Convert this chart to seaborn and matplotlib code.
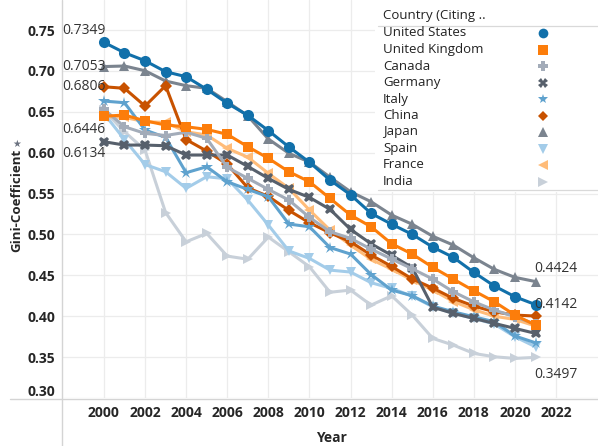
import pandas as pd
import matplotlib.pyplot as plt
import matplotlib.transforms as mtransforms
import seaborn as sns
from matplotlib.lines import Line2D

years = list(range(2000, 2022))

countries = ['United States', 'United Kingdom', 'Canada', 'Germany', 'Italy',
             'China', 'Japan', 'Spain', 'France', 'India']

united_states = [0.7349, 0.7222, 0.7124, 0.6990, 0.6929, 0.6775, 0.6604, 0.6457, 0.6270, 0.6070, 0.5883,
                 0.5665, 0.5485, 0.5258, 0.5125, 0.5001, 0.4845, 0.4720, 0.4536, 0.4369, 0.4238, 0.4142]
united_kingdom = [0.6446, 0.6460, 0.6390, 0.6338, 0.6317, 0.6285, 0.6224, 0.6073, 0.5931, 0.5767, 0.5644,
                  0.5441, 0.5237, 0.5094, 0.4886, 0.4760, 0.4598, 0.4454, 0.4311, 0.4176, 0.4014, 0.3891]
canada = [0.6530, 0.6317, 0.6236, 0.6210, 0.6250, 0.6175, 0.5820, 0.5686, 0.5551, 0.5420, 0.5209,
          0.5033, 0.4952, 0.4820, 0.4700, 0.4580, 0.4455, 0.4299, 0.4176, 0.4075, 0.3993, 0.3904]
germany = [0.6134, 0.6093, 0.6093, 0.6085, 0.5971, 0.5971, 0.5971, 0.5832, 0.5686, 0.5551, 0.5453,
           0.5307, 0.5062, 0.4886, 0.4745, 0.4595, 0.4110, 0.4035, 0.3973, 0.3912, 0.3851, 0.3790]
italy = [0.6631, 0.6611, 0.6277, 0.6187, 0.5755, 0.5828, 0.5644, 0.5551, 0.5461, 0.5127, 0.5094,
         0.4840, 0.4760, 0.4510, 0.4320, 0.4250, 0.4124, 0.4054, 0.3993, 0.3932, 0.3758, 0.3675]
china = [0.6806, 0.6787, 0.6570, 0.6819, 0.6160, 0.6020, 0.5860, 0.5570, 0.5465, 0.5294, 0.5143,
         0.5020, 0.4910, 0.4748, 0.4609, 0.4456, 0.4344, 0.4218, 0.4124, 0.4054, 0.4014, 0.4002]
japan = [0.7053, 0.7060, 0.7002, 0.6876, 0.6819, 0.6787, 0.6623, 0.6450, 0.6167, 0.5992, 0.5885,
         0.5700, 0.5522, 0.5400, 0.5237, 0.5125, 0.4978, 0.4870, 0.4715, 0.4573, 0.4475, 0.4424]
spain = [0.6480, 0.6160, 0.5855, 0.5767, 0.5564, 0.5706, 0.5680, 0.5420, 0.5115, 0.4798, 0.4707,
         0.4564, 0.4540, 0.4410, 0.4340, 0.4245, 0.4116, 0.4035, 0.3973, 0.3904, 0.3749, 0.3626]
france = [0.6440, 0.6432, 0.6378, 0.6370, 0.6256, 0.6216, 0.6053, 0.5945, 0.5747, 0.5564, 0.5298,
          0.5053, 0.4870, 0.4695, 0.4575, 0.4440, 0.4320, 0.4180, 0.4080, 0.4000, 0.3960, 0.3880]
india = [0.6520, 0.6256, 0.6032, 0.5268, 0.4910, 0.5013, 0.4735, 0.4697, 0.4968, 0.4788, 0.4605,
         0.4293, 0.4320, 0.4136, 0.4250, 0.4014, 0.3729, 0.3647, 0.3545, 0.3504, 0.3484, 0.3497]

series = [united_states, united_kingdom, canada, germany, italy, china, japan, spain, france, india]

colors = ['#1170aa', '#fc7d0b', '#a3acb9', '#57606c', '#5fa2ce',
          '#c85200', '#7b848f', '#a3cce9', '#ffbc79', '#c8d0d9']
markers = ['o', 's', 'P', 'X', '*', 'D', '^', 'v', '<', '>']
msizes = [8, 7.5, 7.5, 7.5, 9, 6, 7.5, 7.5, 7.5, 7.5]

# value labels: (country, year index)
labels_left = [('United States', 0), ('Japan', 0), ('China', 0), ('United Kingdom', 0), ('Germany', 0)]
labels_right = [('Japan', -1), ('United States', -1), ('India', -1)]

rows = []
for c, vals in zip(countries, series):
    for y, v in zip(years, vals):
        rows.append({'Year': y, 'Gini': v, 'Country': c})
df = pd.DataFrame(rows)

sns.set_style('white')
plt.rcParams['font.family'] = ['Open Sans', 'DejaVu Sans']

W, H = 598, 446
fig = plt.figure(figsize=(W / 100, H / 100), dpi=100)
ax = fig.add_axes([62 / W, 1 - 398 / H, 1 - 62 / W, 398 / H])

for c, col, m, ms in reversed(list(zip(countries, colors, markers, msizes))):
    sns.lineplot(data=df[df['Country'] == c], x='Year', y='Gini', ax=ax, color=col,
                 marker=m, markersize=ms, markeredgewidth=0, linewidth=2.2, legend=False)

ax.set_xlim(1997.96, 2024.04)
ax.set_ylim(0.30, 0.7867)
ax.set_xticks(range(2000, 2023, 2))
ax.set_yticks([0.30, 0.35, 0.40, 0.45, 0.50, 0.55, 0.60, 0.65, 0.70, 0.75])
ax.set_yticklabels(['%.2f' % t for t in ax.get_yticks()])
ax.grid(True, color='#ececec', linewidth=0.9)
ax.set_axisbelow(True)
for s in ax.spines.values():
    s.set_visible(False)
ax.tick_params(axis='both', length=0, labelsize=10)
ax.tick_params(axis='x', pad=6)
ax.tick_params(axis='y', pad=5)
for t in ax.get_xticklabels() + ax.get_yticklabels():
    t.set_fontweight('bold')
# the 0.30 label sits a little higher, as in the original
ylabs = ax.get_yticklabels()
ylabs[0].set_transform(ylabs[0].get_transform() + mtransforms.ScaledTranslation(0, 8 / 100, fig.dpi_scale_trans))

ax.set_xlabel('')
ax.set_ylabel('')
fig.text(331 / W, 1 - 438 / H, 'Year', ha='center', va='center', fontsize=10, fontweight='bold')
fig.text(17 / W, 1 - 200 / H, 'Gini-Coefficient', rotation=90, ha='center', va='center',
         fontsize=9.5, fontweight='bold')
fig.text(17 / W, 1 - 144 / H, '\u2605', ha='center', va='center', fontsize=7, color='#6b7280',
         family='DejaVu Sans')

lookup = dict(zip(countries, series))
for c, i in labels_left:
    v = lookup[c][i]
    off = {'United States': 12, 'Japan': 0, 'China': 0, 'United Kingdom': -13, 'Germany': -12}[c]
    ax.annotate('%.4f' % v, (years[i], v), xytext=(-42, off), textcoords='offset pixels',
                ha='left', va='center', fontsize=10, color='#333333')
for c, i in labels_right:
    v = lookup[c][i]
    off = {'Japan': 13, 'United States': 0, 'India': -17}[c]
    ax.annotate('%.4f' % v, (years[i], v), xytext=(-1, off), textcoords='offset pixels',
                ha='left', va='center', fontsize=10, color='#333333')

# frame lines of the view
fig.add_artist(Line2D([62 / W, 62 / W], [0, 1], color='#d4d4d4', linewidth=1))
fig.add_artist(Line2D([10 / W, 1], [1 - 399 / H, 1 - 399 / H], color='#d4d4d4', linewidth=1))

# legend panel
lg = fig.add_axes([375 / W, 1 - 192 / H, 223 / W, 192 / H])
lg.set_xlim(375, 598)
lg.set_ylim(192, 0)
lg.axis('off')
lg.add_patch(plt.Rectangle((375, 0), 223, 192, color='white', zorder=0))
lg.text(383, 16, 'Country (Citing ..', fontsize=9.5, va='center', ha='left', color='#222222')
lg.plot([378, 598], [25.5, 25.5], color='#d9d9d9', linewidth=0.9)
lg.plot([378, 598], [190, 190], color='#d9d9d9', linewidth=0.9)
for k, (c, col, m) in enumerate(zip(countries, colors, markers)):
    yy = 33 + k * 16.5
    lg.text(383, yy, c, fontsize=9.5, va='center', ha='left', color='#222222')
    lg.plot([543], [yy], marker=m, color=col, markersize=7 if m != 'D' else 5.5, markeredgewidth=0)

fig.savefig('out.png', dpi=100)
